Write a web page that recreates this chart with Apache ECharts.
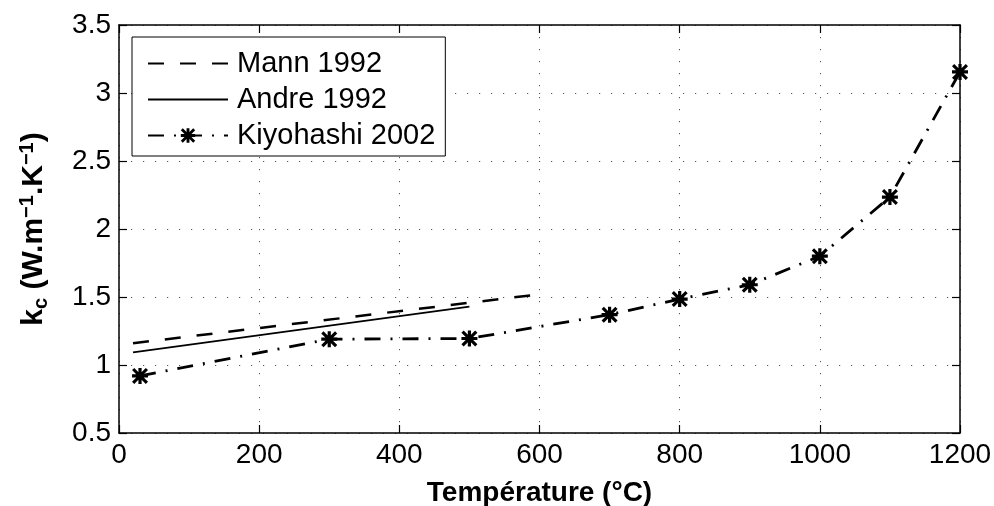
<!DOCTYPE html>
<html>
<head>
<meta charset="utf-8">
<script src="https://cdn.jsdelivr.net/npm/echarts@6/dist/echarts.min.js"></script>
<style>
html,body{margin:0;padding:0;background:#fff;}
#c{width:994px;height:506px;}
</style>
</head>
<body>
<div id="c"></div>
<script>
// Data
var mannX = [20, 600];
var mannY = [1.16, 1.52];
var andreX = [20, 500];
var andreY = [1.093, 1.429];
var kiyoX = [30, 300, 500, 700, 800, 900, 1000, 1100, 1200];
var kiyoY = [0.92, 1.19, 1.195, 1.37, 1.485, 1.59, 1.80, 2.235, 3.155];
var xTicks = [0, 200, 400, 600, 800, 1000, 1200];
var yTicks = [0.5, 1, 1.5, 2, 2.5, 3, 3.5];

function pairs(xs, ys) { return xs.map(function (x, i) { return [x, ys[i]]; }); }

var star = 'path://M0,4L10,4L10,6L0,6Z M4,0L6,0L6,10L4,10Z M0,1.4L1.4,0L10,8.6L8.6,10Z M8.6,0L10,1.4L1.4,10L0,8.6Z';
var font = 'Liberation Sans, Arial, Helvetica, sans-serif';
var FS = 28;

var chart = echarts.init(document.getElementById('c'));
var gridLine = { show: true, lineStyle: { color: '#555', width: 1, type: [1.2, 10.8] } };
var tick = { show: true, inside: true, length: 8, lineStyle: { color: '#000', width: 1.2 } };
var axLine = { show: true, onZero: false, lineStyle: { color: '#000', width: 1.5 } };
var option = {
  backgroundColor: '#fff',
  animation: false,
  textStyle: { fontFamily: font },
  grid: { left: 119, right: 34, top: 25, bottom: 73, outerBoundsMode: 'none', containLabel: false },
  legend: {
    orient: 'vertical',
    left: 132, top: 37,
    itemWidth: 80, itemHeight: 18, itemGap: 7,
    padding: [12, 10, 6, 15],
    borderColor: '#000', borderWidth: 1, backgroundColor: '#fff', borderRadius: 0,
    textStyle: { fontSize: 29, color: '#000', fontFamily: font, padding: [0, 0, 0, 4] },
    data: ['Mann 1992', 'Andre 1992', 'Kiyohashi 2002']
  },
  xAxis: [{
    type: 'value', min: xTicks[0], max: xTicks[xTicks.length - 1], interval: 200,
    name: 'Température (°C)', nameLocation: 'middle', nameGap: 46,
    nameTextStyle: { fontSize: FS, fontWeight: 'bold', color: '#000', fontFamily: font },
    axisLine: axLine, axisTick: tick,
    axisLabel: { fontSize: FS, color: '#000', margin: 8, fontFamily: font,
      formatter: function (v) { return String(v); } },
    splitLine: gridLine
  }, {
    type: 'value', position: 'top', min: xTicks[0], max: xTicks[xTicks.length - 1], interval: 200,
    axisLine: axLine, axisTick: tick,
    axisLabel: { show: false }, splitLine: { show: false }
  }],
  yAxis: [{
    type: 'value', min: yTicks[0], max: yTicks[yTicks.length - 1], interval: 0.5,
    name: '{b|k}{sub|c}{b| (W.m}{sup|−1}{b|.K}{sup|−1}{b|)}',
    nameLocation: 'middle', nameGap: 68, nameRotate: 90,
    nameTextStyle: {
      color: '#000', fontFamily: font,
      rich: {
        b: { fontSize: 30, fontWeight: 'bold', color: '#000', fontFamily: font, verticalAlign: 'middle', lineHeight: 34 },
        sub: { fontSize: 20, fontWeight: 'bold', color: '#000', fontFamily: font, verticalAlign: 'bottom', lineHeight: 34, padding: [12, 0, 0, 0] },
        sup: { fontSize: 20, fontWeight: 'bold', color: '#000', fontFamily: font, verticalAlign: 'top', lineHeight: 34, padding: [0, 0, 12, 0] }
      }
    },
    axisLine: axLine, axisTick: tick,
    axisLabel: {
      fontSize: FS, color: '#000', margin: 8, fontFamily: font,
      formatter: function (v) { return String(+v.toFixed(1)); }
    },
    splitLine: gridLine
  }, {
    type: 'value', position: 'right', min: yTicks[0], max: yTicks[yTicks.length - 1], interval: 0.5,
    axisLine: axLine, axisTick: tick,
    axisLabel: { show: false }, splitLine: { show: false }
  }],
  series: [{
    name: 'Mann 1992', type: 'line', data: pairs(mannX, mannY),
    showSymbol: false, symbol: 'none', color: '#000',
    itemStyle: { opacity: 0 },
    lineStyle: { color: '#000', width: 2.5, type: [16, 16] }
  }, {
    name: 'Andre 1992', type: 'line', data: pairs(andreX, andreY),
    showSymbol: false, symbol: 'none', color: '#000',
    itemStyle: { opacity: 0 },
    lineStyle: { color: '#000', width: 1.8, type: 'solid' }
  }, {
    name: 'Kiyohashi 2002', type: 'line', data: pairs(kiyoX, kiyoY),
    symbol: star, symbolSize: 16, color: '#000',
    itemStyle: { color: '#000', borderWidth: 0 },
    lineStyle: { color: '#000', width: 2.8, type: [16, 10, 2, 10] }
  }]
};
chart.setOption(option);
</script>
</body>
</html>
